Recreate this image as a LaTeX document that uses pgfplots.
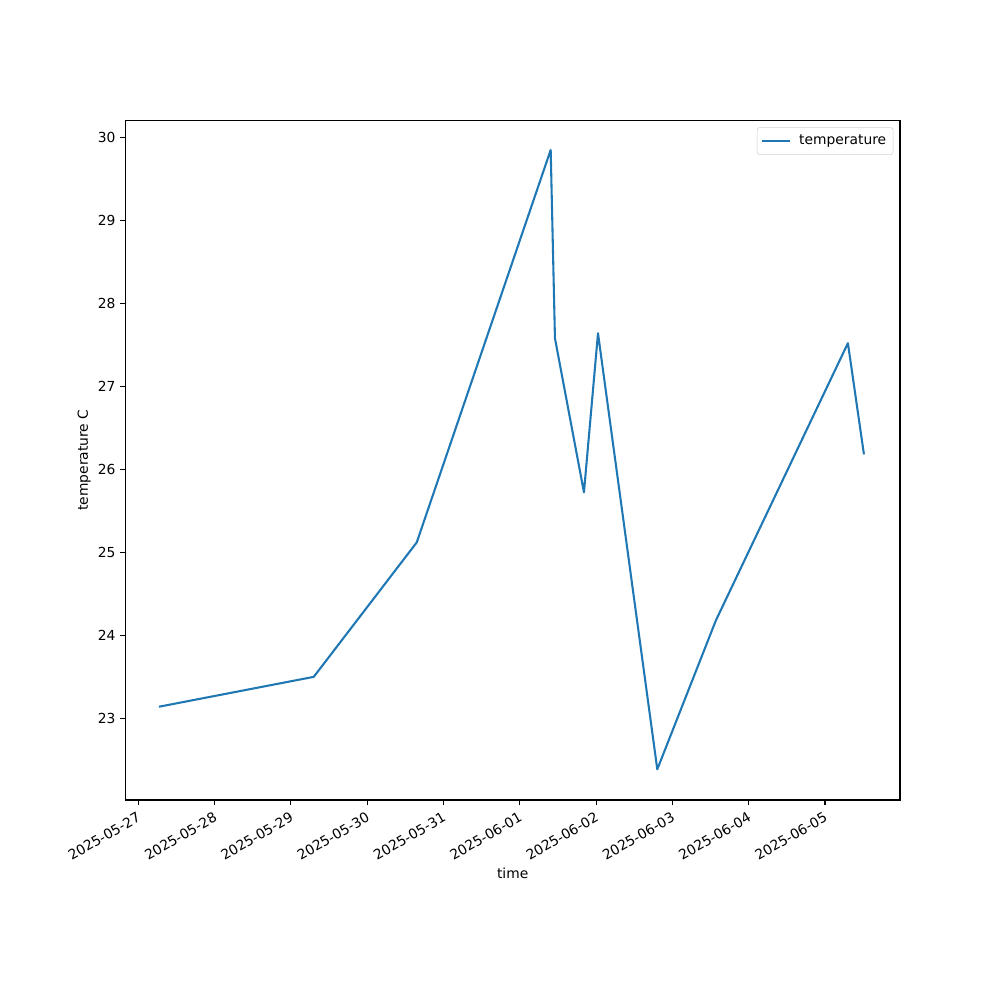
\documentclass[border=0pt]{standalone}
\usepackage{fontspec}
\setmainfont{DejaVu Sans}
\usepackage{pgfplots}
\pgfplotsset{compat=1.18}
\definecolor{tabblue}{HTML}{1F77B4}
\begin{document}
\fontsize{10}{12}\selectfont
\begin{tikzpicture}
\begin{axis}[
  scale only axis,
  width=7.75in, height=6.8in,
  xmin=-0.170, xmax=9.983,
  ymin=22.016, ymax=30.205,
  xtick={0,1,2,3,4,5,6,7,8,9},
  xticklabels={2025-05-27,2025-05-28,2025-05-29,2025-05-30,2025-05-31,2025-06-01,2025-06-02,2025-06-03,2025-06-04,2025-06-05},
  ytick={23,24,25,26,27,28,29,30},
  xticklabel style={rotate=30, anchor=north east, font=\fontsize{10}{12}\selectfont},
  yticklabel style={font=\fontsize{10}{12}\selectfont},
  /pgf/number format/assume math mode=true,
  tick align=outside,
  xtick pos=bottom, ytick pos=left,
  major tick length=3.5pt,
  tick style={black, line width=0.8pt},
  axis line style={line width=0.8pt},
  xlabel={time}, ylabel={temperature C},
  xlabel style={at={(axis description cs:0.5,-0.1074)}, anchor=center, font=\fontsize{10}{12}\selectfont},
  ylabel style={at={(axis description cs:-0.0529,0.5)}, anchor=center, font=\fontsize{10}{12}\selectfont},
  legend style={at={(rel axis cs:0.9914,0.9897)}, anchor=north east, draw=black!18, rounded corners=2pt, font=\fontsize{10}{12}\selectfont, inner xsep=3pt, inner ysep=3.5pt, /tikz/every odd column/.append style={column sep=4pt}},
  legend cell align=left,
  legend image code/.code={\draw[#1] (0pt,0pt) -- (20pt,0pt);},
]
\addplot[color=tabblue, line width=1.5pt, line join=round] coordinates {
(0.271,23.14)
(2.30,23.50)
(3.65,25.12)
(5.405,29.847)
(5.461,27.578)
(5.841,25.723)
(6.025,27.639)
(6.802,22.386)
(7.57,24.18)
(9.30,27.52)
(9.51,26.18)
};
\addlegendentry{temperature}
\end{axis}
\path ([shift={(-1.253in,-2.0in)}]current axis.south west) rectangle ([shift={(1.0in,1.203in)}]current axis.north east);
\end{tikzpicture}
\end{document}
